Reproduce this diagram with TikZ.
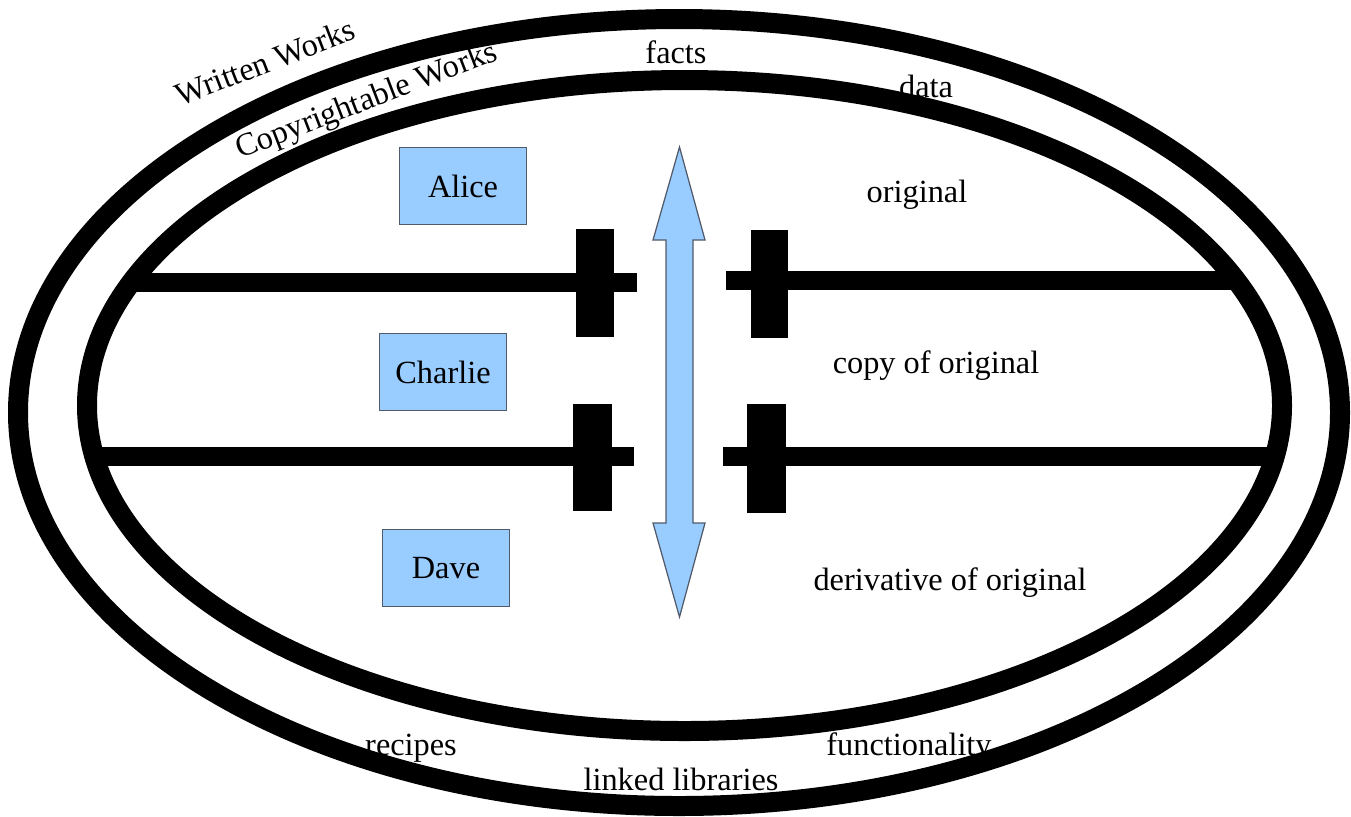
\documentclass[tikz,border=0pt]{standalone}
\usepackage{fontspec}
\setmainfont{Liberation Serif}
\usetikzlibrary{positioning}

\definecolor{boxblue}{RGB}{153,204,255}
\definecolor{edgegray}{RGB}{80,90,105}

\begin{document}
\begin{tikzpicture}[x=0.02cm,y=-0.02cm,
        font=\fontsize{18.4}{22}\selectfont,
        ring/.style={draw=black,line width=0.4cm},
        lbl/.style={anchor=base,inner sep=0pt},
        person/.style={draw=edgegray,line width=0.7pt,fill=boxblue,
            minimum width=2.54cm,minimum height=1.54cm,inner sep=0pt},
        bar/.style={fill=black}]
            \useasboundingbox (0,0) rectangle (1351,816);
            % labels go under the rings
            \foreach \nm/\x/\y/\txt in {facts/676/63/facts,data/926/97/data,
                    orig/917/202/original,copy/936/373/copy of original,
                    deriv/950/590/derivative of original,recipes/411/755/recipes,
                    func/909/755/functionality,linked/681/790/linked libraries}{%
                    \node[lbl] (\nm) at (\x,\y) {\txt};
                }
            \node[rotate=21,inner sep=0pt] (written) at (265,62) {Written Works};
            \node[rotate=21,inner sep=0pt] (copyable) at (367,102) {Copyrightable Works};
            % rings
            \draw[ring] (679,412.5) ellipse [x radius=661,y radius=393.5];
            \draw[ring] (684.5,405.5) ellipse [x radius=597.5,y radius=325.5];
            % fences
            \fill[bar] (132,273) rectangle (637,292);
            \fill[bar] (576,229) rectangle (614,337);
            \fill[bar] (726,271) rectangle (1237,290);
            \fill[bar] (751,230) rectangle (788,338);
            \fill[bar] (94,447) rectangle (634,466);
            \fill[bar] (573,404) rectangle (612,511);
            \fill[bar] (723,447) rectangle (1275,466);
            \fill[bar] (747,404) rectangle (786,513);
            % arrow
            \filldraw[fill=boxblue,draw=edgegray,line width=0.7pt]
                (679.5,147) -- (705,240) -- (693,240) -- (693,523) -- (705,523)
                -- (679.5,617) -- (653,523) -- (666,523) -- (666,240) -- (653,240) -- cycle;
            % people
            \node[person] (alice) at (463,186) {Alice};
            \node[person] (charlie) at (443,372) {Charlie};
            \node[person] (dave) at (446,568) {Dave};
        \end{tikzpicture}
\end{document}
